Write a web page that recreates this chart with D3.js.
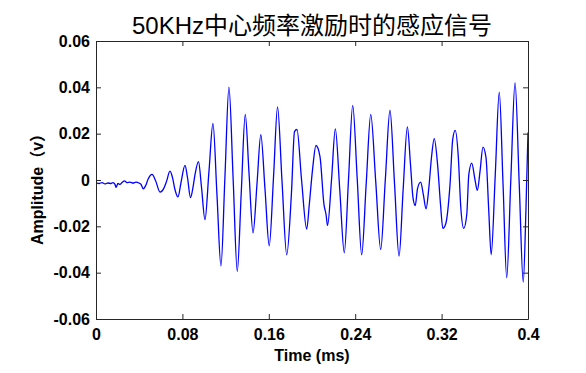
<!DOCTYPE html>
<html><head><meta charset="utf-8">
<script src="https://cdn.jsdelivr.net/npm/d3@7"></script>
<style>
html,body{margin:0;padding:0;background:#fff;}
svg{display:block;}
</style>
</head><body>
<svg id="chart" width="586" height="373"></svg>
<script>
// ---- data ----
const titleText = "50KHz中心频率激励时的感应信号";
const xLabel = "Time (ms)";
const yLabel = "Amplitude（v）";
const xTicks = [0, 0.08, 0.16, 0.24, 0.32, 0.4];
const xTickLabels = ["0", "0.08", "0.16", "0.24", "0.32", "0.4"];
const yTicks = [0.06, 0.04, 0.02, 0, -0.02, -0.04, -0.06];
const yTickLabels = ["0.06", "0.04", "0.02", "0", "-0.02", "-0.04", "-0.06"];

const timeMs = [
  0, 0.0028, 0.0056, 0.0083, 0.0111, 0.0139, 0.0157, 0.0176, 0.0185, 0.0204,
  0.0222, 0.0241, 0.0264, 0.0287, 0.0315, 0.0343, 0.037, 0.0398, 0.0417, 0.0438,
  0.046, 0.0481, 0.0519, 0.0551, 0.0593, 0.063, 0.0653, 0.0685, 0.0708, 0.0731,
  0.0759, 0.0787, 0.0824, 0.0847, 0.0875, 0.0898, 0.0917, 0.0949, 0.0977, 0.1009,
  0.1046, 0.1083, 0.112, 0.1157, 0.1194, 0.1231, 0.127, 0.1308, 0.1345, 0.1382,
  0.1417, 0.1454, 0.1491, 0.1526, 0.1565, 0.1604, 0.1644, 0.1681, 0.1722, 0.1766,
  0.181, 0.1838, 0.1861, 0.1903, 0.1951, 0.1975, 0.2005, 0.2037, 0.2074, 0.2111,
  0.213, 0.2144, 0.2181, 0.2216, 0.2257, 0.2299, 0.2338, 0.2377, 0.2419, 0.246,
  0.2502, 0.2544, 0.259, 0.2636, 0.2679, 0.2722, 0.2764, 0.2806, 0.2844, 0.2883,
  0.2912, 0.2935, 0.2956, 0.2977, 0.3006, 0.3031, 0.3056, 0.3083, 0.3106, 0.3132,
  0.3164, 0.319, 0.3212, 0.3239, 0.3278, 0.3303, 0.3326, 0.3355, 0.3377, 0.3405,
  0.3433, 0.3452, 0.3479, 0.3509, 0.3531, 0.3556, 0.3583, 0.3611, 0.3637, 0.3659,
  0.3697, 0.3734, 0.3769, 0.3803, 0.3841, 0.388, 0.3919, 0.3956, 0.3981, 0.4
];
const amplitudeV = [
  -0.0011, -0.0015, -0.0011, -0.0017, -0.0013, -0.0015, -0.0011, -0.0019, -0.0032, -0.0015,
  -0.0019, -0.0011, -0.0004, -0.0011, -0.0009, -0.0013, -0.0009, -0.0013, -0.0019, -0.0038,
  -0.0024, 0.0002, 0.0024, -0.0002, -0.0052, -0.0034, -0.0006, 0.0038, 0.0011, -0.0041,
  -0.0073, -0.0011, 0.0063, 0.0011, -0.0076, -0.0032, 0.0024, 0.0079, -0.0032, -0.0171,
  0.0037, 0.0244, -0.0063, -0.0371, 0.0015, 0.0401, 0.0002, -0.0394, -0.0054, 0.0283,
  0.0028, -0.0228, -0.0015, 0.0196, -0.0041, -0.0284, 0.0015, 0.0316, -0.0002, -0.0323,
  -0.0054, 0.0209, 0.0218, 0.0002, -0.0212, -0.0106, 0.0045, 0.0149, 0.0101, -0.0106,
  -0.0149, -0.0196, 0.0002, 0.0221, -0.0041, -0.0314, 0.0002, 0.0322, 0.0002, -0.0323,
  -0.0015, 0.0283, -0.0006, -0.03, 0.0002, 0.0301, -0.0015, -0.0329, -0.0041, 0.0229,
  0.0067, -0.0076, -0.011, -0.0037, -0.0009, -0.0063, -0.0124, -0.0028, 0.0096, 0.0179,
  0.006, -0.0106, -0.0209, -0.0188, -0.0019, 0.0175, 0.0214, 0.0097, -0.0113, -0.0209,
  -0.0149, 0.0024, 0.0073, 0.0002, -0.0045, 0.0038, 0.0142, 0.0097, -0.0136, -0.0322,
  0.0024, 0.0379, -0.0019, -0.0422, 0.0002, 0.042, -0.0019, -0.0441, -0.0127, 0.0205
];

// ---- layout ----
const plot = {left: 96, right: 528, top: 41, bottom: 319};
const svg = d3.select("#chart");
const axisColor = "#262626";
const fontLatin = "'Liberation Sans', Arial, 'Noto Sans CJK SC', sans-serif";

const x = d3.scaleLinear().domain([0, 0.4]).range([plot.left, plot.right]);
const y = d3.scaleLinear().domain([-0.06, 0.06]).range([plot.bottom, plot.top]);

const data = timeMs.map((t, i) => ({t, v: amplitudeV[i]}));

svg.append("clipPath").attr("id", "clip")
  .append("rect").attr("x", plot.left).attr("y", plot.top)
  .attr("width", plot.right - plot.left).attr("height", plot.bottom - plot.top);

svg.append("path")
  .datum(data)
  .attr("clip-path", "url(#clip)")
  .attr("fill", "none")
  .attr("stroke", "#0000ff")
  .attr("stroke-width", 1.3)
  .attr("stroke-linejoin", "round")
  .attr("d", d3.line().x(d => x(d.t)).y(d => y(d.v)).curve(d3.curveMonotoneX));

// axes with inward ticks
const tickLen = 5;
function styleAxis(g) {
  g.selectAll("path.domain").attr("stroke", axisColor).attr("stroke-width", 1);
  g.selectAll(".tick line").attr("stroke", axisColor).attr("stroke-width", 1);
}
const xb = svg.append("g").attr("transform", `translate(0,${plot.bottom})`)
  .call(d3.axisBottom(x).tickValues(xTicks).tickSizeInner(-tickLen).tickSizeOuter(0)
    .tickFormat((d, i) => xTickLabels[i]).tickPadding(10));
const xt = svg.append("g").attr("transform", `translate(0,${plot.top})`)
  .call(d3.axisTop(x).tickValues(xTicks).tickSizeInner(-tickLen).tickSizeOuter(0)
    .tickFormat(""));
const yl = svg.append("g").attr("transform", `translate(${plot.left},0)`)
  .call(d3.axisLeft(y).tickValues(yTicks).tickSizeInner(-tickLen).tickSizeOuter(0)
    .tickFormat((d, i) => yTickLabels[i]).tickPadding(6));
const yr = svg.append("g").attr("transform", `translate(${plot.right},0)`)
  .call(d3.axisRight(y).tickValues(yTicks).tickSizeInner(-tickLen).tickSizeOuter(0)
    .tickFormat(""));
[xb, xt, yl, yr].forEach(styleAxis);

[xb, yl].forEach(g => g.selectAll(".tick text")
  .attr("fill", "#000")
  .style("font-family", fontLatin)
  .style("font-size", "16px")
  .style("font-weight", "bold"));
xb.selectAll(".tick text").attr("dy", "0.71em");

// title
svg.append("text")
  .attr("x", (plot.left + plot.right) / 2)
  .attr("y", 34)
  .attr("text-anchor", "middle")
  .style("font-family", fontLatin)
  .style("font-size", "24px")
  .attr("fill", "#000")
  .text(titleText);

// x label
svg.append("text")
  .attr("x", (plot.left + plot.right) / 2)
  .attr("y", 361)
  .attr("text-anchor", "middle")
  .style("font-family", fontLatin)
  .style("font-size", "16px")
  .style("font-weight", "bold")
  .attr("fill", "#000")
  .text(xLabel);

// y label
svg.append("text")
  .attr("transform", `translate(43,185.5) rotate(-90)`)
  .attr("text-anchor", "middle")
  .style("font-family", fontLatin)
  .style("font-size", "16px")
  .style("font-weight", "bold")
  .attr("fill", "#000")
  .text(yLabel);
</script>
</body></html>
